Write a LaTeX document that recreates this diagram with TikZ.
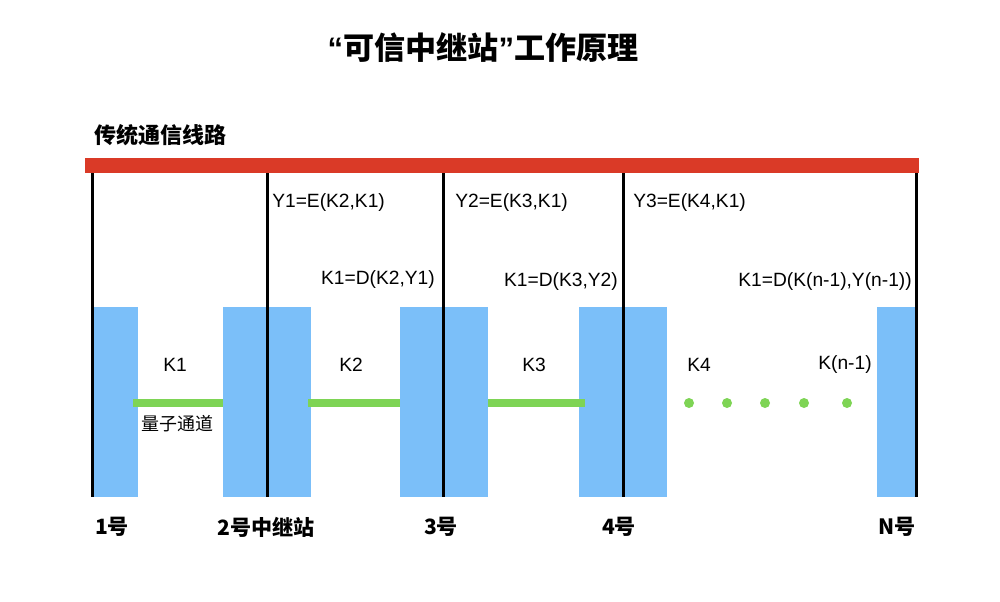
\documentclass[tikz,border=0pt]{standalone}
\usepackage{fontspec}
\setmainfont{Liberation Sans}
\newfontfamily\cjk{Noto Sans CJK SC}
\definecolor{qblue}{HTML}{7BBFF9}
\definecolor{qred}{HTML}{DA3A27}
\definecolor{qgreen}{HTML}{7ED455}

\begin{document}
\begin{tikzpicture}
[x=0.75pt,y=-0.75pt]
\tikzset{box/.style={fill=qblue,minimum height=142.5pt,inner sep=0pt},
wire/.style={line width=2.25pt},
chan/.style={draw=qgreen,line width=6.5pt},
dot/.style={circle,fill=qgreen,inner sep=0pt,minimum size=7.5pt},
lbl/.style={inner sep=0pt,font=\fontsize{14.4}{17}\selectfont},
sta/.style={inner sep=0pt,font=\cjk\bfseries\fontsize{15.8}{18}\selectfont}}
\useasboundingbox (0,0) rectangle (1000,601);

\node [inner sep=0pt,font=\bfseries\fontsize{23.3}{28}\selectfont] (title) at (483,48) {“{\cjk 可信中继站}”{\cjk 工作原理}};
\node [inner sep=0pt,anchor=west,font=\cjk\bfseries\fontsize{16.5}{19}\selectfont] (line) at (94,135) {传统通信线路};
\node [fill=qred,inner sep=0pt,minimum width=625.5pt,minimum height=11.25pt] (bar) at (502,165.5) {};

\node [box,minimum width=33.75pt] (r1) at (115.5,402) {};
\node [box,minimum width=66pt] (r2) at (267,402) {};
\node [box,minimum width=66pt] (r3) at (444,402) {};
\node [box,minimum width=66pt] (r4) at (623,402) {};
\node [box,minimum width=28.5pt] (r5) at (896,402) {};

\coordinate (b1) at (92,497);
\coordinate (b2) at (267,497);
\coordinate (b3) at (443,497);
\coordinate (b4) at (623,497);
\coordinate (b5) at (916,497);
\foreach \b in {b1,b2,b3,b4,b5}
	\draw [wire] (bar.south -| \b) -- (\b);

\draw [chan] ([xshift=-3.75pt,yshift=-0.75pt]r1.east) -- ([yshift=-0.75pt]r2.west);
\draw [chan] ([xshift=-2.25pt,yshift=-0.75pt]r2.east) -- ([yshift=-0.75pt]r3.west);
\draw [chan] ([yshift=-0.75pt]r3.east) -- ([xshift=4.5pt,yshift=-0.75pt]r4.west);
\foreach \x [count=\i] in {689,727,765,804,847}
	\node [dot] (d\i) at (\x,403) {};

\node [lbl] (k1) at (175,365) {K1};
\node [lbl] (k2) at (351,365) {K2};
\node [lbl] (k3) at (534,365) {K3};
\node [lbl] (k4) at (699,365) {K4};
\node [lbl] (kn) at (845,365) {K(n-1)};
\node [inner sep=0pt,font=\cjk\fontsize{13.5}{16}\selectfont] (q) at (177,424) {量子通道};

\node [lbl,anchor=west] (y1) at (272,203) {Y1=E(K2,K1)};
\node [lbl,anchor=west] (y2) at (455,203) {Y2=E(K3,K1)};
\node [lbl,anchor=west] (y3) at (633,203) {Y3=E(K4,K1)};
\node [lbl,anchor=east] (e2) at (435,280) {K1=D(K2,Y1)};
\node [lbl,anchor=east] (e3) at (618,282) {K1=D(K3,Y2)};
\node [lbl,anchor=east] (e5) at (912,282) {K1=D(K(n-1),Y(n-1))};

\node [sta] (s1) at (112,527) {1号};
\node [sta] (s2) at (266,527) {2号中继站};
\node [sta] (s3) at (441,527) {3号};
\node [sta] (s4) at (619,527) {4号};
\node [sta] (s5) at (897,527) {N号};

\end{tikzpicture}
\end{document}
